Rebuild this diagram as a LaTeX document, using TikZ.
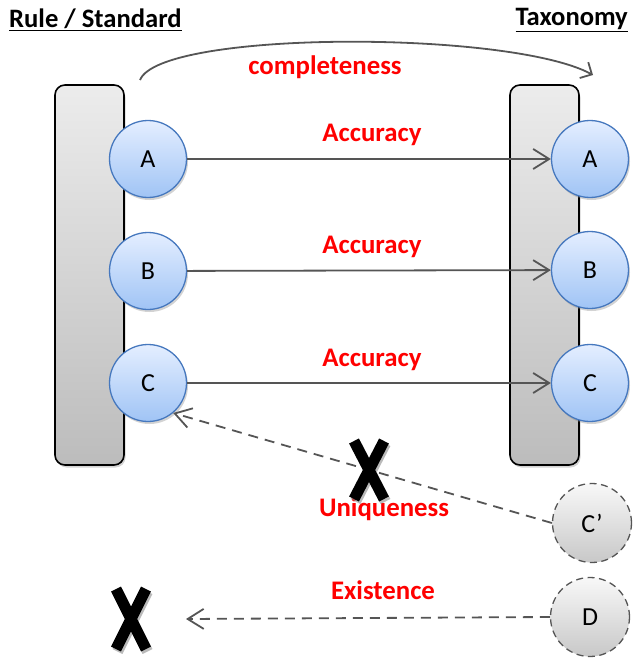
\documentclass[tikz,border=0pt]{standalone}
\usepackage{fontspec}
\setmainfont{Carlito}
\usetikzlibrary{arrows.meta,shadows}
\definecolor{linkgray}{RGB}{85,85,85}
\definecolor{ballborder}{RGB}{70,120,190}
\definecolor{balltop}{RGB}{228,238,255}
\definecolor{ballbot}{RGB}{160,196,245}
\definecolor{bartop}{RGB}{236,236,236}
\definecolor{barbot}{RGB}{188,188,188}
\definecolor{ghosttop}{RGB}{248,248,248}
\definecolor{ghostbot}{RGB}{200,200,200}
\begin{document}
\begin{tikzpicture}[x=1pt,y=-1pt,
  bar/.style={draw=black, line width=1.6pt, rounded corners=10pt, top color=bartop, bottom color=barbot,
    minimum width=69pt, minimum height=380pt, inner sep=0pt,
    drop shadow={shadow xshift=1.5pt, shadow yshift=-2.5pt, opacity=0.35}},
  ball/.style={circle, draw=ballborder, line width=1.3pt, top color=balltop, bottom color=ballbot,
    minimum size=77pt, inner sep=0pt, font=\fontsize{26}{26}\selectfont,
    drop shadow={shadow xshift=1.5pt, shadow yshift=-2.5pt, opacity=0.35}},
  ghost/.style={circle, draw=linkgray, dashed, dash pattern=on 7pt off 4.5pt, line width=1.3pt, top color=ghosttop, bottom color=ghostbot,
    minimum size=79pt, inner sep=0pt, font=\fontsize{26}{26}\selectfont},
  lbl/.style={text=red, font=\bfseries\fontsize{26.8}{27}\selectfont, inner sep=0pt},
  hdr/.style={font=\bfseries\fontsize{26.6}{27}\selectfont, inner sep=0pt},
  link/.style={draw=linkgray, line width=1.8pt, -{Straight Barb[length=16pt,width=20pt,line width=1.8pt]}},
  dlink/.style={link, dash pattern=on 10pt off 7pt},
  xmark/.style={line width=11pt, line cap=butt}
]
\useasboundingbox (0,0) rectangle (634,658);

% headers
\node[hdr, anchor=west] (rs) at (9,20) {\underline{Rule / Standard}};
\node[hdr, anchor=east] (tx) at (628,20) {\underline{Taxonomy}};

% bars
\node[bar] (lbar) at (89.5,275) {};
\node[bar] (rbar) at (544.5,275) {};

% balls
\node[ball] (la) at (148,159) {A};
\node[ball] (lb) at (148,271) {B};
\node[ball] (lc) at (148,383) {C};
\node[ball] (ra) at (590,159) {A};
\node[ball] (rb) at (590,270) {B};
\node[ball] (rc) at (590,383) {C};
\node[ghost] (cp) at (592,523) {C’};
\node[ghost] (d) at (590,617) {D};

% labels
\node[lbl] (lcomp) at (325,67) {completeness};
\node[lbl] (lacc1) at (372,135) {Accuracy};
\node[lbl] (lacc2) at (372,247) {Accuracy};
\node[lbl] (lacc3) at (372,360) {Accuracy};
\node[lbl] (luniq) at (384,509) {Uniqueness};
\node[lbl] (lexis) at (383,590) {Existence};

% connectors
\draw[link] (la) -- (ra);
\draw[link] (lb) -- (rb);
\draw[link] (lc) -- (rc);
\draw[dlink] (cp.west) -- (lc.-50);
\coordinate (dend) at (186,619);
\draw[dlink] (d.west) -- (dend);

\coordinate (cs) at (140,80);
\coordinate (ce) at (593,75);
\draw[draw=linkgray, line width=1.8pt, -{Straight Barb[length=9pt,width=18pt,line width=1.8pt]}]
  (cs) .. controls (160,30) and (510,30) .. (ce);

% X marks
\begin{scope}[shift={(369,470)}]
  \draw[xmark, draw=black!45, opacity=0.6] (-15+1.5,-29+2.5) -- (15+1.5,29+2.5) (15+1.5,-29+2.5) -- (-15+1.5,29+2.5);
  \draw[xmark] (-15,-29) -- (15,29) (15,-29) -- (-15,29);
\end{scope}
\begin{scope}[shift={(131,619)}]
  \draw[xmark, draw=black!45, opacity=0.6] (-15+1.5,-30+2.5) -- (15+1.5,30+2.5) (15+1.5,-30+2.5) -- (-15+1.5,30+2.5);
  \draw[xmark] (-15,-30) -- (15,30) (15,-30) -- (-15,30);
\end{scope}
\end{tikzpicture}
\end{document}
